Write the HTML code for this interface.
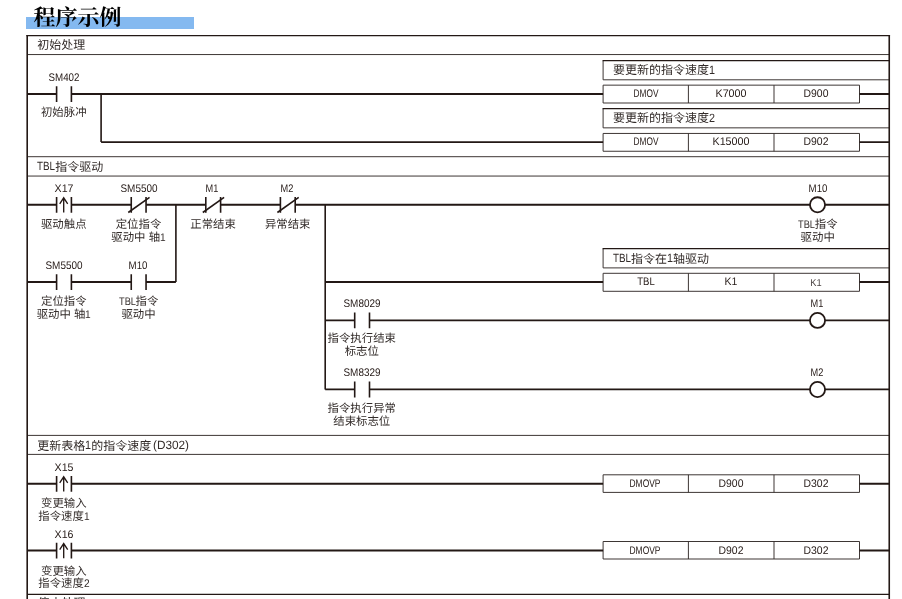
<!DOCTYPE html>
<html lang="zh-CN">
<head>
<meta charset="utf-8">
<title>程序示例</title>
<style>
html,body{margin:0;padding:0;background:#fff}
body{width:902px;height:599px;position:relative;overflow:hidden;will-change:transform;text-rendering:geometricPrecision;font-family:"Liberation Sans","Noto Sans CJK SC",sans-serif;color:#332c2a}
svg{position:absolute;left:0;top:0}
.bar{position:absolute;left:26px;top:17px;width:168px;height:12px;background:#84b9f0}
h1{position:absolute;left:0;top:0;margin:0;width:902px;height:34px;font-size:0;line-height:0}
.t{position:absolute;white-space:nowrap;line-height:14px}
.d{width:80px;text-align:center;font-size:11px;color:#231815}
.c{width:100px;text-align:center;font-size:11.4px;line-height:13.25px}
.a{display:inline-block;transform-origin:0 50%;letter-spacing:0}
.c .a{font-size:11px}
.h{font-size:12px}
.h .a{font-size:12px;position:relative;top:-.8px}
</style>
</head>
<body>
<div class="bar"></div>
<h1><svg role="img" aria-label="程序示例" width="902" height="34" viewBox="0 0 902 34" stroke="none" fill="#000"><title>程序示例</title><text x="33.5" y="24.5" font-size="22" font-weight="bold" fill="#000" textLength="88" lengthAdjust="spacing" style="font-family:'Liberation Serif','Noto Serif CJK SC',serif">程序示例</text></svg></h1>
<svg width="902" height="599" viewBox="0 0 902 599" fill="none" stroke="#231815" stroke-linecap="butt"><path d="M27.20 54.55L889.25 54.55M27.20 156.70L889.25 156.70M27.20 176.05L889.25 176.05M27.20 435.40L889.25 435.40M27.20 454.40L889.25 454.40M603.10 79.80L889.25 79.80M603.10 60.55L603.10 79.80M603.10 85.15L859.50 85.15M603.10 103.00L859.50 103.00M603.10 85.15L603.10 103.00M688.40 85.15L688.40 103.00M774.00 85.15L774.00 103.00M859.50 85.15L859.50 103.00M603.10 127.85L889.25 127.85M603.10 108.55L603.10 127.85M603.10 133.45L859.50 133.45M603.10 151.25L859.50 151.25M603.10 133.45L603.10 151.25M688.40 133.45L688.40 151.25M774.00 133.45L774.00 151.25M859.50 133.45L859.50 151.25M603.10 267.90L889.25 267.90M603.10 248.65L603.10 267.90M603.10 273.30L859.50 273.30M603.10 291.30L859.50 291.30M603.10 273.30L603.10 291.30M688.40 273.30L688.40 291.30M774.00 273.30L774.00 291.30M859.50 273.30L859.50 291.30M603.10 474.80L859.50 474.80M603.10 492.40L859.50 492.40M603.10 474.80L603.10 492.40M688.40 474.80L688.40 492.40M774.00 474.80L774.00 492.40M859.50 474.80L859.50 492.40M603.10 541.50L859.50 541.50M603.10 559.00L859.50 559.00M603.10 541.50L603.10 559.00M688.40 541.50L688.40 559.00M774.00 541.50L774.00 559.00M859.50 541.50L859.50 559.00" stroke-width="0.95" stroke="#332b29"/>
<path d="M26.40 35.50L890.05 35.50M27.20 594.30L889.25 594.30M602.60 60.55L889.25 60.55M602.60 108.55L889.25 108.55M602.60 248.65L889.25 248.65" stroke-width="1.25"/>
<path d="M27.20 35.00L27.20 599.00M889.25 35.00L889.25 599.00M56.60 86.20L56.60 102.00M71.40 86.20L71.40 102.00M101.10 94.00L101.10 142.10M56.60 196.90L56.60 212.70M71.40 196.90L71.40 212.70M131.25 196.90L131.25 212.70M146.05 196.90L146.05 212.70M205.80 196.90L205.80 212.70M220.60 196.90L220.60 212.70M280.40 196.90L280.40 212.70M295.20 196.90L295.20 212.70M56.60 274.20L56.60 290.00M71.40 274.20L71.40 290.00M131.25 274.20L131.25 290.00M146.05 274.20L146.05 290.00M175.90 204.70L175.90 282.00M325.20 204.70L325.20 389.40M354.70 312.50L354.70 328.30M369.50 312.50L369.50 328.30M354.70 381.60L354.70 397.40M369.50 381.60L369.50 397.40M56.60 475.90L56.60 491.70M71.40 475.90L71.40 491.70M56.60 542.65L56.60 558.45M71.40 542.65L71.40 558.45" stroke-width="1.6"/>
<path d="M27.20 94.00L56.60 94.00M71.40 94.00L603.10 94.00M859.50 94.00L889.25 94.00M101.10 142.10L603.10 142.10M859.50 142.10L889.25 142.10M27.20 204.70L56.60 204.70M71.40 204.70L131.25 204.70M146.05 204.70L205.80 204.70M220.60 204.70L280.40 204.70M295.20 204.70L810.00 204.70M825.00 204.70L889.25 204.70M27.20 282.00L56.60 282.00M71.40 282.00L131.25 282.00M146.05 282.00L175.90 282.00M325.20 282.00L603.10 282.00M859.50 282.00L889.25 282.00M325.20 320.30L354.70 320.30M369.50 320.30L810.00 320.30M825.00 320.30L889.25 320.30M325.20 389.40L354.70 389.40M369.50 389.40L810.00 389.40M825.00 389.40L889.25 389.40M27.20 483.70L56.60 483.70M71.40 483.70L603.10 483.70M859.50 483.70L889.25 483.70M27.20 550.45L56.60 550.45M71.40 550.45L603.10 550.45M859.50 550.45L889.25 550.45" stroke-width="1.85"/>
<path d="M63.70 212.40V197.80M59.70 203.80L63.70 197.80L67.70 203.80" stroke-width="1.35"/>
<path d="M128.25 212.50L149.55 197.30" stroke-width="1.6"/>
<path d="M202.80 212.50L224.10 197.30" stroke-width="1.6"/>
<path d="M277.40 212.50L298.70 197.30" stroke-width="1.6"/>
<circle cx="817.5" cy="204.80" r="7.55" stroke-width="1.8"/>
<circle cx="817.5" cy="320.40" r="7.55" stroke-width="1.8"/>
<circle cx="817.5" cy="389.50" r="7.55" stroke-width="1.8"/>
<path d="M63.70 491.40V476.80M59.70 482.80L63.70 476.80L67.70 482.80" stroke-width="1.35"/>
<path d="M63.70 558.15V543.55M59.70 549.55L63.70 543.55L67.70 549.55" stroke-width="1.35"/></svg>
<div class="t h" style="left:37.20px;top:38.00px">初始处理</div>
<div class="t h" style="left:37.20px;top:160.00px"><span class="a" style="transform:scaleX(0.818);margin-right:-4.01px">TBL</span>指令驱动</div>
<div class="t h" style="left:37.20px;top:438.60px">更新表格<span class="a" style="transform:scaleX(0.899);margin-right:-0.67px">1</span>的指令速度<span class="a" style="transform:scaleX(0.982);margin-right:-0.68px;margin-left:1.4px">(D302)</span></div>
<div class="t h" style="left:37.60px;top:596.20px">停止处理</div>
<div class="t h" style="left:612.90px;top:63.40px">要更新的指令速度<span class="a" style="transform:scaleX(0.899);margin-right:-0.67px">1</span></div>
<div class="t h" style="left:612.90px;top:111.40px">要更新的指令速度<span class="a" style="transform:scaleX(0.899);margin-right:-0.67px">2</span></div>
<div class="t h" style="left:612.90px;top:251.90px"><span class="a" style="transform:scaleX(0.818);margin-right:-4.01px">TBL</span>指令在<span class="a" style="transform:scaleX(0.899);margin-right:-0.67px">1</span>轴驱动</div>
<div class="t d" style="left:23.88px;top:70.68px;transform:scaleX(0.888)">SM402</div>
<div class="t c" style="left:13.77px;top:107.40px">初始脉冲</div>
<div class="t d" style="left:605.95px;top:87.08px;transform:scaleX(0.754)">DMOV</div>
<div class="t d" style="left:690.90px;top:87.08px;transform:scaleX(0.973)">K7000</div>
<div class="t d" style="left:776.45px;top:87.08px;transform:scaleX(0.947)">D900</div>
<div class="t d" style="left:605.95px;top:135.18px;transform:scaleX(0.754)">DMOV</div>
<div class="t d" style="left:690.90px;top:135.18px;transform:scaleX(0.975)">K15000</div>
<div class="t d" style="left:776.45px;top:135.18px;transform:scaleX(0.947)">D902</div>
<div class="t d" style="left:24.08px;top:181.98px;transform:scaleX(0.963)">X17</div>
<div class="t d" style="left:98.53px;top:181.78px;transform:scaleX(0.903)">SM5500</div>
<div class="t d" style="left:172.27px;top:181.98px;transform:scaleX(0.837)">M1</div>
<div class="t d" style="left:247.12px;top:181.98px;transform:scaleX(0.837)">M2</div>
<div class="t d" style="left:777.60px;top:181.98px;transform:scaleX(0.881)">M10</div>
<div class="t c" style="left:13.77px;top:218.60px">驱动触点</div>
<div class="t c" style="left:88.53px;top:218.60px">定位指令<br>驱动中 轴<span class="a" style="transform:scaleX(0.924);margin-right:-0.47px">1</span></div>
<div class="t c" style="left:163.07px;top:218.60px">正常结束</div>
<div class="t c" style="left:237.72px;top:218.60px">异常结束</div>
<div class="t c" style="left:767.70px;top:218.70px"><span class="a" style="transform:scaleX(0.840);margin-right:-3.22px">TBL</span>指令<br>驱动中</div>
<div class="t d" style="left:23.77px;top:259.38px;transform:scaleX(0.903)">SM5500</div>
<div class="t d" style="left:98.42px;top:259.38px;transform:scaleX(0.881)">M10</div>
<div class="t c" style="left:13.88px;top:295.70px">定位指令<br>驱动中 轴<span class="a" style="transform:scaleX(0.924);margin-right:-0.47px">1</span></div>
<div class="t c" style="left:88.53px;top:295.70px"><span class="a" style="transform:scaleX(0.840);margin-right:-3.22px">TBL</span>指令<br>驱动中</div>
<div class="t d" style="left:606.05px;top:275.28px;transform:scaleX(0.867)">TBL</div>
<div class="t d" style="left:690.90px;top:275.28px;transform:scaleX(0.951)">K1</div>
<div class="t d" style="left:775.95px;top:277.39px;transform:scaleX(0.931);font-size:10px;color:#4d4645">K1</div>
<div class="t d" style="left:321.77px;top:296.88px;transform:scaleX(0.903)">SM8029</div>
<div class="t d" style="left:777.20px;top:296.88px;transform:scaleX(0.837)">M1</div>
<div class="t c" style="left:311.77px;top:333.20px">指令执行结束<br>标志位</div>
<div class="t d" style="left:321.77px;top:365.98px;transform:scaleX(0.903)">SM8329</div>
<div class="t d" style="left:777.20px;top:366.28px;transform:scaleX(0.837)">M2</div>
<div class="t c" style="left:311.77px;top:402.60px">指令执行异常<br>结束标志位</div>
<div class="t d" style="left:23.98px;top:460.88px;transform:scaleX(0.963)">X15</div>
<div class="t d" style="left:24.08px;top:527.98px;transform:scaleX(0.963)">X16</div>
<div class="t c" style="left:13.88px;top:498.32px;line-height:12.4px">变更输入<br>指令速度<span class="a" style="transform:scaleX(0.924);margin-right:-0.47px">1</span></div>
<div class="t c" style="left:13.88px;top:565.52px;line-height:12.4px">变更输入<br>指令速度<span class="a" style="transform:scaleX(0.924);margin-right:-0.47px">2</span></div>
<div class="t d" style="left:605.45px;top:477.08px;transform:scaleX(0.767)">DMOVP</div>
<div class="t d" style="left:690.90px;top:477.08px;transform:scaleX(0.947)">D900</div>
<div class="t d" style="left:776.45px;top:477.08px;transform:scaleX(0.947)">D302</div>
<div class="t d" style="left:605.45px;top:543.83px;transform:scaleX(0.767)">DMOVP</div>
<div class="t d" style="left:690.90px;top:543.83px;transform:scaleX(0.947)">D902</div>
<div class="t d" style="left:776.45px;top:543.83px;transform:scaleX(0.947)">D302</div>
</body>
</html>
